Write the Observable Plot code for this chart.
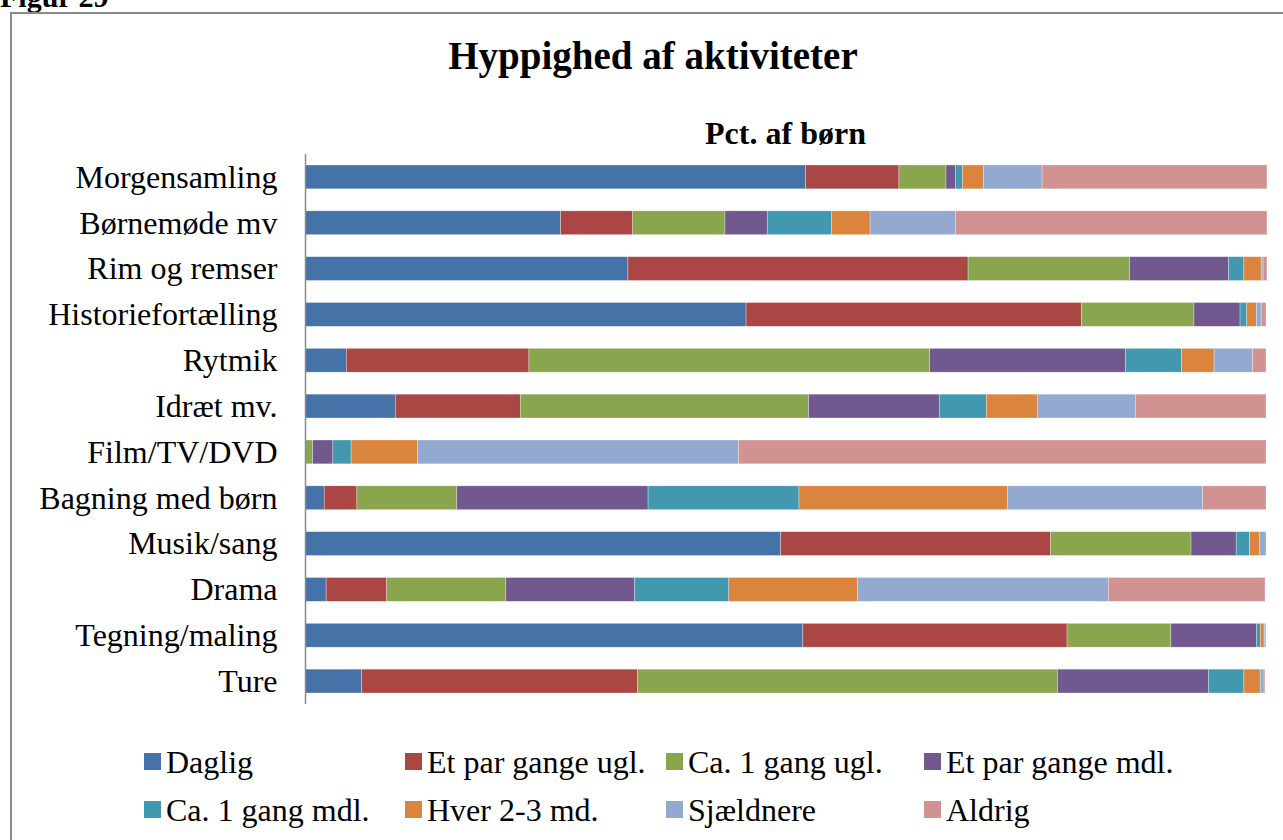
<!DOCTYPE html>
<html>
<head>
<meta charset="utf-8">
<script src="https://cdn.jsdelivr.net/npm/d3@7"></script>
<script src="https://cdn.jsdelivr.net/npm/@observablehq/plot@0.6"></script>
<style>
  html, body { margin: 0; padding: 0; background: #fff; }
  body { width: 1283px; height: 840px; overflow: hidden; position: relative;
         font-family: "Liberation Serif", "Times New Roman", serif; color: #000; }
  .abs { position: absolute; }
  #frame { left: 10px; top: 12px; width: 1300px; height: 900px; border: 2px solid #8a8a8a; box-sizing: border-box; }
  #fig { left: 0px; top: -20px; font-size: 30px; font-weight: bold; }
  #title { left: 0; width: 1306px; top: 34px; text-align: center; font-size: 39px; font-weight: bold; line-height: 44px; }
  #subtitle { left: 305px; width: 961px; top: 113px; text-align: center; font-size: 32px; font-weight: bold; line-height: 40px; }
  #chart { left: 0; top: 140px; }
  .leg { position: absolute; font-size: 32px; line-height: 36px; white-space: nowrap; }
  .sw { position: absolute; width: 17px; height: 17px; }
</style>
</head>
<body>
<div id="fig" class="abs">Figur 29</div>
<div id="frame" class="abs"></div>
<div id="title" class="abs">Hyppighed af aktiviteter</div>
<div id="subtitle" class="abs">Pct. af børn</div>
<div id="chart" class="abs"></div>
<div id="legend"></div>
<script>
const categories = ["Morgensamling", "Børnemøde mv", "Rim og remser", "Historiefortælling", "Rytmik", "Idræt mv.", "Film/TV/DVD", "Bagning med børn", "Musik/sang", "Drama", "Tegning/maling", "Ture"];
const series = ["Daglig", "Et par gange ugl.", "Ca. 1 gang ugl.", "Et par gange mdl.", "Ca. 1 gang mdl.", "Hver 2-3 md.", "Sjældnere", "Aldrig"];
const colors = ["#4572A7", "#AA4643", "#89A54E", "#71588F", "#4198AF", "#DB843D", "#93A9CF", "#D19392"];

// Percent values per series, in category order
const daglig        = [52.1, 26.6, 33.6, 45.9,  4.3,  9.4,  0.0,  2.0, 49.5,  2.2, 51.8,  5.9];
const etParUgl      = [ 9.7,  7.5, 35.4, 34.9, 19.0, 13.0,  0.0,  3.4, 28.1,  6.3, 27.5, 28.7];
const ca1Ugl        = [ 4.9,  9.6, 16.8, 11.7, 41.7, 30.0,  0.8, 10.4, 14.6, 12.4, 10.8, 43.7];
const etParMdl      = [ 1.0,  4.4, 10.3,  4.8, 20.4, 13.6,  2.1, 19.9,  4.7, 13.4,  8.9, 15.7];
const ca1Mdl        = [ 0.7,  6.7,  1.6,  0.7,  5.8,  4.9,  1.9, 15.7,  1.4,  9.8,  0.4,  3.7];
const hver23        = [ 2.2,  4.0,  1.8,  1.0,  3.4,  5.3,  6.9, 21.7,  1.0, 13.4,  0.4,  1.7];
const sjaeldnere    = [ 6.1,  8.9,  0.2,  0.5,  4.0, 10.2, 33.4, 20.3,  0.7, 26.1,  0.1,  0.4];
const aldrig        = [23.4, 32.4,  0.4,  0.5,  1.4, 13.6, 54.9,  6.6,  0.0, 16.3,  0.1,  0.1];

const seriesValues = [daglig, etParUgl, ca1Ugl, etParMdl, ca1Mdl, hver23, sjaeldnere, aldrig];

const data = [];
categories.forEach((c, i) => {
  series.forEach((s, j) => {
    data.push({ category: c, series: s, value: seriesValues[j][i] });
  });
});

const chart = Plot.plot({
  width: 1283,
  height: 574,
  marginLeft: 305,
  marginRight: 17,
  marginTop: 14,
  marginBottom: 10,
  style: { fontFamily: '"Liberation Serif", "Times New Roman", serif', background: "transparent" },
  x: { domain: [0, 100], axis: null },
  y: { domain: categories, paddingInner: 0.48, paddingOuter: 0.24, round: false, label: null },
  color: { domain: series, range: colors },
  marks: [
    Plot.barX(data, Plot.stackX({
      x: "value", y: "category", fill: "series", order: series,
      stroke: "white", strokeWidth: 0.6, strokeOpacity: 0.5, inset: 0
    })),
    Plot.axisY({ tickSize: 0, tickPadding: 28, fontSize: 32, fill: "#000", label: null }),
    Plot.ruleX([0], { stroke: "#8a8a8a", strokeWidth: 1.5 })
  ]
});
document.getElementById("chart").appendChild(chart);

// Legend
const legend = document.getElementById("legend");
const colX = [144, 405, 666, 924];
const rowY = [744, 792];
series.forEach((s, i) => {
  const col = i % 4, row = Math.floor(i / 4);
  const sw = document.createElement("div");
  sw.className = "sw";
  sw.style.left = colX[col] + "px";
  sw.style.top = (rowY[row] + 9) + "px";
  sw.style.background = colors[i];
  legend.appendChild(sw);
  const t = document.createElement("div");
  t.className = "leg";
  t.style.left = (colX[col] + 22) + "px";
  t.style.top = rowY[row] + "px";
  t.textContent = s;
  legend.appendChild(t);
});
</script>
</body>
</html>
